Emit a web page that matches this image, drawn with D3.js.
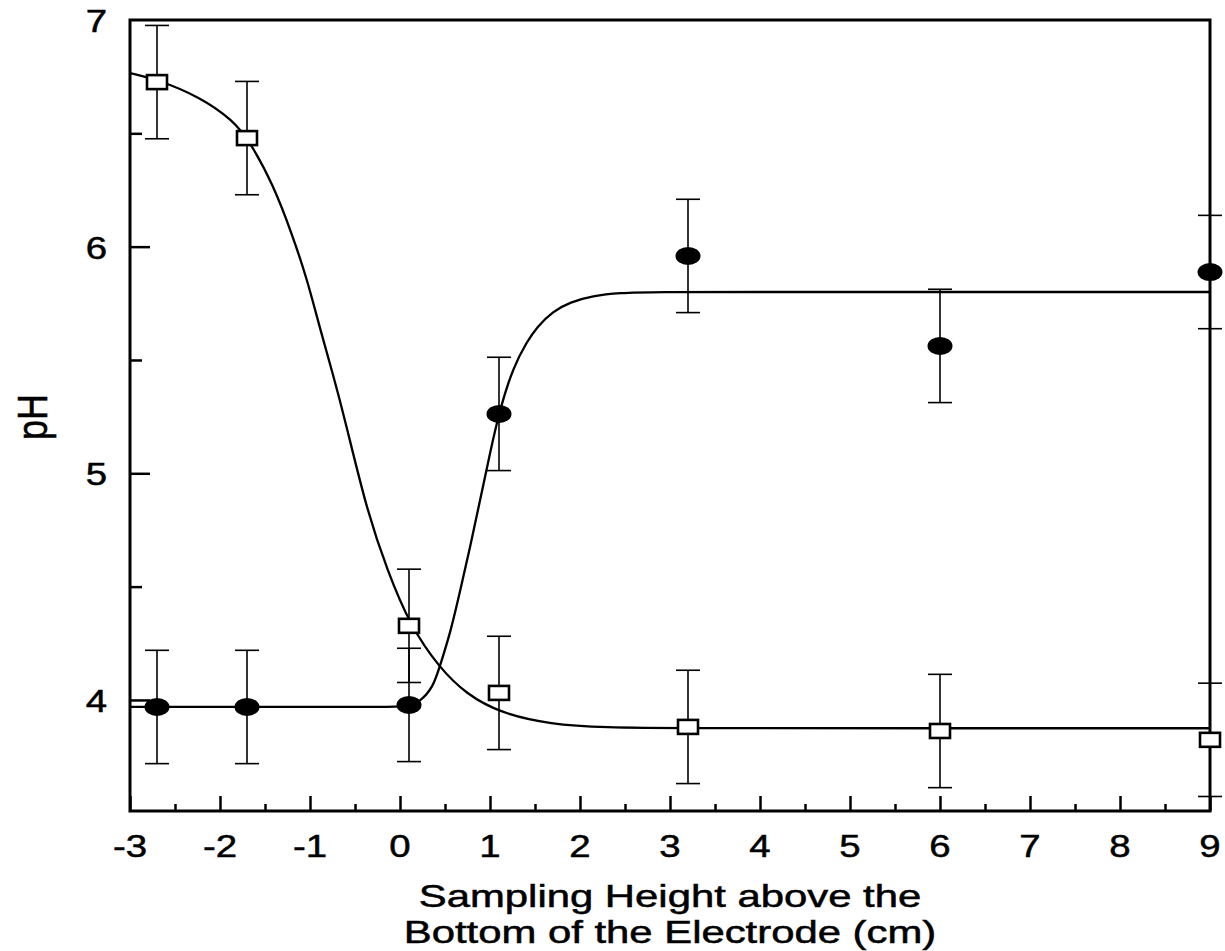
<!DOCTYPE html>
<html>
<head>
<meta charset="utf-8">
<script src="https://cdn.jsdelivr.net/npm/d3@7"></script>
<style>
  html, body { margin: 0; padding: 0; background: #fff; }
  svg { display: block; }
  text { font-family: "Liberation Sans", Arial, Helvetica, sans-serif; fill: #000; stroke: #000; stroke-width: 0.5; }
</style>
</head>
<body>
<svg id="chart" width="1225" height="951"></svg>
<script>
// ---- data ----
const squareX   = [-2.7, -1.7, 0.1, 1.1, 3.2, 6.0, 9.0];
const squarePH  = [6.726, 6.479, 4.327, 4.031, 3.881, 3.863, 3.824];
const squareErr = [0.25, 0.25, 0.25, 0.25, 0.25, 0.25, 0.25];

const circleX   = [-2.7, -1.7, 0.1, 1.1, 3.2, 6.0, 9.0];
const circlePH  = [3.969, 3.969, 3.978, 5.262, 5.959, 5.562, 5.888];
const circleErr = [0.25, 0.25, 0.25, 0.25, 0.25, 0.25, 0.25];

// fitted curves, points
const squareFitX  = [-3.0, -2.7, -2.22, -1.86, -1.67, -1.41, -1.19, -1.03, -0.89, -0.74, -0.61, -0.37, -0.14, 0.11, 0.44, 0.74, 1.11, 1.67, 2.3, 3.0, 6.0, 9.0];
const squareFitPH = [6.766, 6.738, 6.660, 6.559, 6.465, 6.275, 6.045, 5.853, 5.640, 5.430, 5.235, 4.838, 4.570, 4.330, 4.140, 4.025, 3.943, 3.892, 3.878, 3.875, 3.875, 3.875];

const circleFitX  = [-3.0, -1.0, 0.0, 0.1, 0.22, 0.37, 0.44, 0.56, 0.67, 0.78, 0.89, 1.0, 1.11, 1.26, 1.41, 1.52, 1.70, 1.89, 2.14, 2.44, 2.81, 4.0, 6.0, 9.0];
const circleFitPH = [3.969, 3.969, 3.969, 3.972, 3.991, 4.057, 4.146, 4.296, 4.485, 4.675, 4.882, 5.090, 5.284, 5.470, 5.580, 5.645, 5.715, 5.755, 5.783, 5.796, 5.800, 5.800, 5.800, 5.800];

const xTickValues = [-3, -2, -1, 0, 1, 2, 3, 4, 5, 6, 7, 8, 9];
const xTickLabels = ["-3", "-2", "-1", "0", "1", "2", "3", "4", "5", "6", "7", "8", "9"];
const xMinorTicks = [-2.5, -1.5, -0.5, 0.5, 1.5, 2.5, 3.5, 4.5, 5.5, 6.5, 7.5, 8.5];
const yTickValues = [4, 5, 6, 7];
const yTickLabels = ["4", "5", "6", "7"];
const yMinorTicks = [4.5, 5.5, 6.5];

const xTitleLines = ["Sampling Height above the", "Bottom of the Electrode (cm)"];
const yTitle = "pH";

// ---- layout ----
const svg = d3.select("#chart");
const x = d3.scaleLinear().domain([-3, 9]).range([130, 1210]);
const y = d3.scaleLinear().domain([3.51, 7]).range([811, 20]);
const SX = 1.2; // horizontal stretch of the lettering in the reference

const g = svg.append("g");
g.append("rect")
  .attr("x", x(-3)).attr("y", y(7))
  .attr("width", x(9) - x(-3)).attr("height", y(3.51) - y(7))
  .attr("fill", "none").attr("stroke", "#000").attr("stroke-width", 3);

// ticks (inside)
const xAxisG = g.append("g").attr("transform", `translate(0,${y(3.51)})`)
  .call(d3.axisBottom(x).tickValues(xTickValues).tickSize(-15).tickFormat(""));
const xMinorG = g.append("g").attr("transform", `translate(0,${y(3.51)})`)
  .call(d3.axisBottom(x).tickValues(xMinorTicks).tickSize(-7).tickFormat(""));
const yAxisG = g.append("g").attr("transform", `translate(${x(-3)},0)`)
  .call(d3.axisLeft(y).tickValues(yTickValues.filter(v => v < 7)).tickSize(-20).tickFormat(""));
const yMinorG = g.append("g").attr("transform", `translate(${x(-3)},0)`)
  .call(d3.axisLeft(y).tickValues(yMinorTicks).tickSize(-12).tickFormat(""));
[xAxisG, xMinorG, yAxisG, yMinorG].forEach(a => {
  a.select(".domain").remove();
  a.selectAll(".tick line").attr("stroke", "#000").attr("stroke-width", 2.5);
});

function stretchedText(parent, tx, ty, str, size, anchor, sx) {
  return parent.append("text")
    .attr("transform", `translate(${tx},${ty}) scale(${sx || SX},1)`)
    .attr("text-anchor", anchor)
    .attr("font-size", size)
    .text(str);
}
xTickValues.forEach((v, i) => stretchedText(g, x(v), 857, xTickLabels[i], 32, "middle"));
yTickValues.forEach((v, i) => stretchedText(g, 107, y(v) + 12, yTickLabels[i], 32, "end"));

xTitleLines.forEach((t, i) => stretchedText(g, (x(-3) + x(9)) / 2, 907 + i * 36, t, 31, "middle", 1.35));
g.append("text")
  .attr("transform", `translate(${47},${417}) rotate(-90) scale(1,${SX})`)
  .attr("text-anchor", "middle")
  .attr("font-size", 36)
  .text(yTitle);

// fit curves
const line = d3.line().x(d => x(d[0])).y(d => y(d[1])).curve(d3.curveBasis);
g.append("path")
  .datum(squareFitX.map((v, i) => [v, squareFitPH[i]]))
  .attr("d", line).attr("fill", "none").attr("stroke", "#000").attr("stroke-width", 2.3);
g.append("path")
  .datum(circleFitX.map((v, i) => [v, circleFitPH[i]]))
  .attr("d", line).attr("fill", "none").attr("stroke", "#000").attr("stroke-width", 2.3);

// error bars
function errorBars(xs, ys, es) {
  const eg = g.append("g").attr("stroke", "#000").attr("stroke-width", 1.6);
  xs.forEach((xv, i) => {
    const cx = x(xv), top = y(ys[i] + es[i]), bot = y(ys[i] - es[i]);
    eg.append("line").attr("x1", cx).attr("x2", cx).attr("y1", top).attr("y2", bot);
    eg.append("line").attr("x1", cx - 12).attr("x2", cx + 12).attr("y1", top).attr("y2", top);
    eg.append("line").attr("x1", cx - 12).attr("x2", cx + 12).attr("y1", bot).attr("y2", bot);
  });
}
errorBars(squareX, squarePH, squareErr);
errorBars(circleX, circlePH, circleErr);

// markers
g.append("g").selectAll("ellipse")
  .data(circleX.map((v, i) => [v, circlePH[i]]))
  .join("ellipse")
  .attr("cx", d => x(d[0])).attr("cy", d => y(d[1]))
  .attr("rx", 12.5).attr("ry", 9)
  .attr("fill", "#000");
g.append("g").selectAll("rect")
  .data(squareX.map((v, i) => [v, squarePH[i]]))
  .join("rect")
  .attr("x", d => x(d[0]) - 10).attr("y", d => y(d[1]) - 7)
  .attr("width", 20).attr("height", 14)
  .attr("fill", "#fff").attr("stroke", "#000").attr("stroke-width", 2.6);
</script>
</body>
</html>
